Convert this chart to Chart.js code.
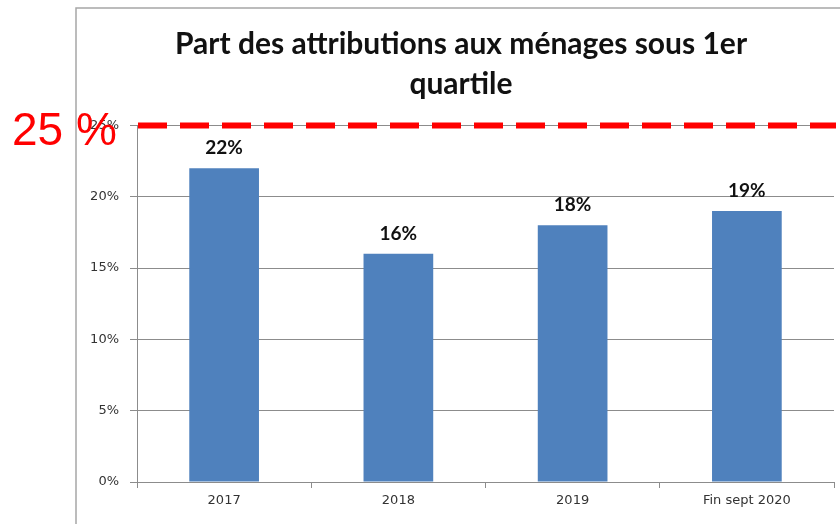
<!DOCTYPE html>
<html>
<head>
<meta charset="utf-8">
<script src="https://cdn.jsdelivr.net/npm/chart.js@4/dist/chart.umd.min.js"></script>
<style>
  body { margin: 0; background: #fff; }
  #wrap { width: 840px; height: 524px; position: relative; }
</style>
</head>
<body>
<div id="wrap"><canvas id="myChart"></canvas></div>
<script>
  const categories = ['2017', '2018', '2019', 'Fin sept 2020']
  const shares = [22, 16, 18, 19]
  const yTicks = [0, 5, 10, 15, 20, 25]
  const target = [25]
  const titleLines = ['Part des attributions aux ménages sous 1er', 'quartile']

  // frame around the chart + big red target label
  const decor = {
    id: 'decor',
    beforeDraw(chart) {
      const ctx = chart.ctx
      ctx.save()
      ctx.strokeStyle = '#a6a6a6'
      ctx.lineWidth = 1.5
      ctx.beginPath()
      ctx.moveTo(76, 524)
      ctx.lineTo(76, 8)
      ctx.lineTo(840, 8)
      ctx.stroke()
      ctx.restore()
    },
    afterDatasetsDraw(chart) {
      const ctx = chart.ctx
      const meta = chart.getDatasetMeta(0)
      ctx.save()
      ctx.fillStyle = '#111'
      ctx.font = 'bold 19px Lato'
      ctx.textAlign = 'center'
      ctx.textBaseline = 'alphabetic'
      meta.data.forEach((bar, i) => {
        ctx.fillText(shares[i] + '%', bar.x, bar.y - 14)
      })
      ctx.restore()
    },
    afterDraw(chart) {
      const ctx = chart.ctx
      const area = chart.chartArea
      const y = chart.scales.y.getPixelForValue(target[0])
      ctx.save()
      ctx.strokeStyle = '#ff0000'
      ctx.lineWidth = 6
      ctx.setLineDash([29, 13])
      ctx.beginPath()
      ctx.moveTo(area.left + 1, y)
      ctx.lineTo(area.right + 2, y)
      ctx.stroke()
      ctx.fillStyle = '#ff0000'
      ctx.font = '46px "Liberation Sans"'
      ctx.textAlign = 'left'
      ctx.textBaseline = 'alphabetic'
      ctx.fillText(target[0] + ' %', 12, y + 20)
      ctx.restore()
    }
  }

  const config = {
    type: 'bar',
    data: {
      labels: categories,
      datasets: [
        {
          label: 'Part',
          data: shares,
          backgroundColor: '#4f81bd',
          borderWidth: 0,
          barPercentage: 0.4,
          categoryPercentage: 1.0,
        },
      ],
    },
    options: {
      responsive: true,
      maintainAspectRatio: false,
      animation: false,
      layout: {
        padding: { left: 88, right: 6, top: 0, bottom: 0 },
      },
      scales: {
        y: {
          min: 0,
          max: 25,
          afterBuildTicks(scale) {
            scale.ticks = yTicks.map(v => ({ value: v }))
          },
          afterFit(scale) {
            scale.width = 49
          },
          ticks: {
            callback: v => v + '%',
            color: '#333',
            font: { family: 'DejaVu Sans', size: 13 },
            padding: 11,
          },
          grid: {
            color: '#8c8c8c',
            lineWidth: 1,
            tickLength: 7,
          },
          border: { color: '#8c8c8c', width: 1 },
        },
        x: {
          afterFit(scale) {
            scale.height = 42
          },
          ticks: {
            color: '#333',
            font: { family: 'DejaVu Sans', size: 13 },
            padding: 5,
          },
          grid: {
            drawOnChartArea: false,
            color: '#8c8c8c',
            tickLength: 6,
          },
          border: { color: '#8c8c8c', width: 1 },
        },
      },
      plugins: {
        legend: { display: false },
        tooltip: { enabled: false },
        title: {
          display: true,
          text: titleLines,
          color: '#111',
          font: { family: 'Lato', size: 30, weight: 'bold', lineHeight: 1.34 },
          padding: { top: 24, bottom: 21 },
        },
      },
    },
    plugins: [decor],
  }

  const chart = new Chart(document.getElementById('myChart'), config)
</script>
</body>
</html>
